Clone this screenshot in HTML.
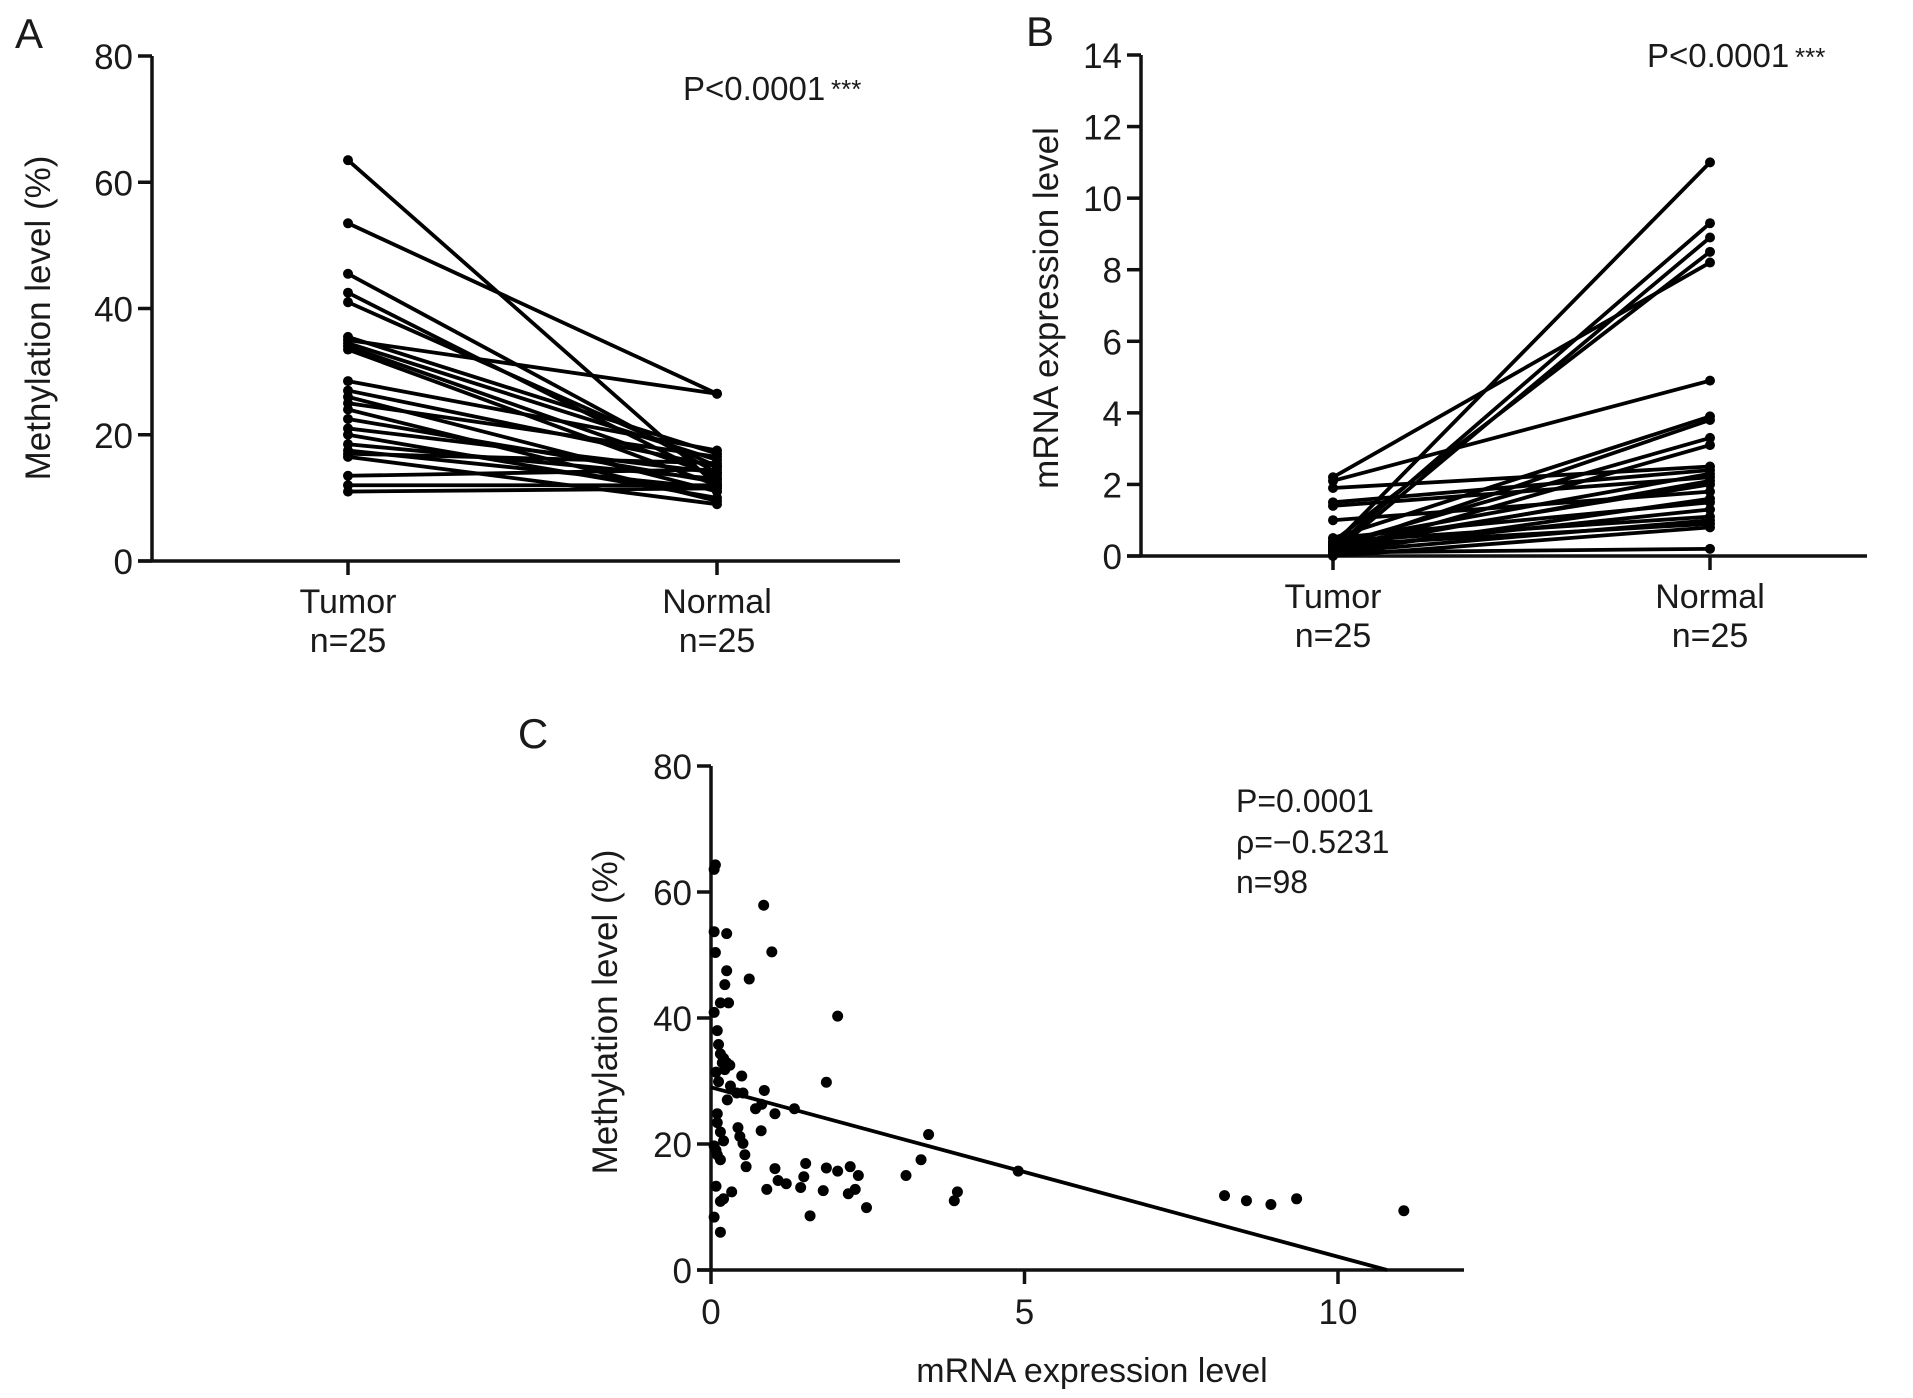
<!DOCTYPE html>
<html><head><meta charset="utf-8"><title>Methylation and mRNA expression</title>
<style>
html,body{margin:0;padding:0;background:#fff;}
svg{display:block;font-family:"Liberation Sans",sans-serif;}
text{fill:#1a1a1a;}
</style></head>
<body>
<svg id="fig" width="1913" height="1398" viewBox="0 0 1913 1398"></svg>
<script>
// Panel A data
const aCategories = ["Tumor", "Normal"];
const aTumor  = [63.5, 53.5, 45.5, 42.5, 41, 35.5, 35, 34.5, 34, 33.5, 28.5, 27, 26, 25, 24, 22.5, 21, 20, 18.5, 17.5, 17, 16.5, 13.5, 12, 11];
const aNormal = [12, 26.5, 14, 13, 15, 17, 26.5, 16, 13.5, 12, 17.5, 15, 11, 16.5, 9.5, 12.5, 14, 10, 13, 11.5, 15.5, 9, 14.5, 12, 11.5];
const aTicks = [0, 20, 40, 60, 80];
// Panel B data
const bCategories = ["Tumor", "Normal"];
const bTumor  = [0.3, 0.2, 0.1, 2.2, 0.4, 2.1, 0.5, 0.2, 0.3, 0.1, 1.9, 1.5, 0.4, 1.4, 0.2, 0.3, 1.0, 0.1, 0.5, 0.2, 0.4, 0.1, 0.3, 0.0, 0.1];
const bNormal = [11, 9.3, 8.9, 8.2, 8.5, 4.9, 3.9, 3.8, 3.3, 3.1, 2.5, 2.4, 2.3, 2.2, 2.1, 2.0, 1.8, 1.6, 1.5, 1.3, 1.1, 1.0, 0.9, 0.8, 0.2];
const bTicks = [0, 2, 4, 6, 8, 10, 12, 14];
// Panel C data
const cX = [0.05,0.07,0.05,0.07,0.25,0.84,0.97,0.61,0.25,0.22,0.15,0.28,0.05,2.02,0.10,0.12,0.15,0.20,0.25,0.08,0.49,1.84,0.31,0.41,0.51,0.85,0.71,0.81,1.02,1.33,0.26,0.10,0.10,0.43,0.46,0.20,0.51,0.80,3.47,0.10,0.15,0.54,0.56,3.35,1.51,1.84,2.02,2.22,1.02,2.35,3.11,4.90,1.48,1.07,1.20,1.43,0.89,1.79,2.30,2.19,3.93,3.88,0.08,0.33,0.20,0.15,2.48,1.58,0.05,0.15,8.19,8.54,8.93,9.34,11.05,0.05,0.08,0.15,0.12,0.18,0.22,0.30];
const cY = [63.6,64.3,53.7,50.4,53.4,57.9,50.5,46.2,47.5,45.3,42.4,42.4,40.9,40.3,38,35.8,34.3,33.6,32.9,31.4,30.8,29.8,29.2,28.1,28.1,28.5,25.6,26.3,24.8,25.6,27,24.8,23.4,22.6,21.2,20.5,20.1,22.1,21.5,18.3,17.5,18.3,16.4,17.5,16.9,16.2,15.7,16.4,16.1,15,15,15.7,14.8,14.2,13.7,13.1,12.8,12.6,12.8,12.1,12.4,11,13.3,12.4,11.3,10.9,9.9,8.6,8.4,6,11.8,11,10.4,11.3,9.4,19.7,19,21.9,29.9,32.9,31.8,32.5];
const cXTicks = [0, 5, 10];
const cYTicks = [0, 20, 40, 60, 80];
const cFit = [29, -2.69]; // intercept, slope

const NS = "http://www.w3.org/2000/svg";
const svg = document.getElementById("fig");
function el(tag, attrs, parent, txt) {
  const e = document.createElementNS(NS, tag);
  for (const k in attrs) e.setAttribute(k, attrs[k]);
  if (txt !== undefined) e.textContent = txt;
  (parent || svg).appendChild(e);
  return e;
}
function label(x, y, t, size, anchor, name, rot) {
  const e = el("text", {x: x, y: y, "font-size": size, "text-anchor": anchor || "middle"}, null, t);
  if (rot) e.setAttribute("transform", "rotate(-90 " + x + " " + y + ")");
  
  
  return e;
}

function pairedPanel(opt) {
  const g = el("g", {});
  
  
  const yMax = opt.ticks[opt.ticks.length - 1];
  const ys = v => opt.y0 - (v / yMax) * (opt.y0 - opt.yTop);
  const ya = el("line", {x1: opt.ax, y1: opt.yTop, x2: opt.ax, y2: opt.y0, stroke: "#111", "stroke-width": 3.5}, g);
  
  
  const xa = el("line", {x1: opt.ax - 14, y1: opt.y0, x2: opt.xEnd, y2: opt.y0, stroke: "#111", "stroke-width": 3.5}, g);
  
  
  opt.ticks.forEach(t => {
    const y = ys(t);
    el("line", {x1: opt.ax - 14, y1: y, x2: opt.ax, y2: y, stroke: "#111", "stroke-width": 3.5}, g);
    label(opt.ax - 19, y + 13, String(t), 35, "end", "y-tick-label");
  });
  [opt.xT, opt.xN].forEach((x, i) => {
    el("line", {x1: x, y1: opt.y0, x2: x, y2: opt.y0 + 14, stroke: "#111", "stroke-width": 3.5}, g);
    label(x, opt.y0 + 52, opt.cats[i], 34, "middle", "x-category-label");
    label(x, opt.y0 + 91, "n=25", 34, "middle", "x-n-label");
  });
  for (let i = 0; i < opt.t.length; i++) {
    const ln = el("line", {x1: opt.xT, y1: ys(opt.t[i]), x2: opt.xN, y2: ys(opt.n[i]), stroke: "#000", "stroke-width": 3.8}, g);
    
    
    const p1 = el("circle", {cx: opt.xT, cy: ys(opt.t[i]), r: 5, fill: "#000"}, g);
    
    
    const p2 = el("circle", {cx: opt.xN, cy: ys(opt.n[i]), r: 5, fill: "#000"}, g);
    
    
  }
}

// Panel A
label(29, 48, "A", 42, "middle", "panel-label-a");
label(50, 318, "Methylation level (%)", 35, "middle", "y-axis-title-a", true);
label(683, 100, "P<0.0001", 33, "start", "p-value-a");
label(831, 98, "***", 26, "start", "significance-a");
pairedPanel({name: "panel-a", ax: 152, yTop: 56, y0: 561, xEnd: 900, xT: 348, xN: 717, ticks: aTicks, t: aTumor, n: aNormal, cats: aCategories});

// Panel B
label(1040, 46, "B", 42, "middle", "panel-label-b");
label(1058, 308, "mRNA expression level", 35, "middle", "y-axis-title-b", true);
label(1647, 67, "P<0.0001", 33, "start", "p-value-b");
label(1795, 66, "***", 26, "start", "significance-b");
pairedPanel({name: "panel-b", ax: 1141, yTop: 55, y0: 556, xEnd: 1867, xT: 1333, xN: 1710, ticks: bTicks, t: bTumor, n: bNormal, cats: bCategories});

// Panel C
(function () {
  const ax = 711, y0 = 1270, yTop = 766, xEnd = 1464;
  const xs = v => ax + v * (1338 - ax) / 10;
  const ys = v => y0 - v / 80 * (y0 - yTop);
  const g = el("g", {});
  
  
  label(533, 748, "C", 42, "middle", "panel-label-c");
  label(617, 1012, "Methylation level (%)", 35, "middle", "y-axis-title-c", true);
  label(1092, 1382, "mRNA expression level", 34, "middle", "x-axis-title-c");
  label(1236, 812, "P=0.0001", 32, "start", "p-value-c");
  label(1236, 853, "\u03c1=\u22120.5231", 32, "start", "rho-c");
  label(1236, 893, "n=98", 32, "start", "n-c");
  const ya = el("line", {x1: ax, y1: yTop, x2: ax, y2: y0, stroke: "#111", "stroke-width": 3.5}, g);
  
  
  const xa = el("line", {x1: ax - 14, y1: y0, x2: xEnd, y2: y0, stroke: "#111", "stroke-width": 3.5}, g);
  
  
  cYTicks.forEach(t => {
    el("line", {x1: ax - 14, y1: ys(t), x2: ax, y2: ys(t), stroke: "#111", "stroke-width": 3.5}, g);
    label(ax - 19, ys(t) + 13, String(t), 35, "end", "y-tick-label");
  });
  cXTicks.forEach(t => {
    el("line", {x1: xs(t), y1: y0, x2: xs(t), y2: y0 + 14, stroke: "#111", "stroke-width": 3.5}, g);
    label(xs(t), y0 + 54, String(t), 35, "middle", "x-tick-label");
  });
  const xz = -cFit[0] / cFit[1];
  const fl = el("line", {x1: xs(0), y1: ys(cFit[0]), x2: xs(xz), y2: ys(0), stroke: "#000", "stroke-width": 3.8}, g);
  
  
  for (let i = 0; i < cX.length; i++) {
    const c = el("circle", {cx: xs(cX[i]), cy: ys(cY[i]), r: 5.5, fill: "#000"}, g);
    
    
  }
})();
</script>
</body></html>
